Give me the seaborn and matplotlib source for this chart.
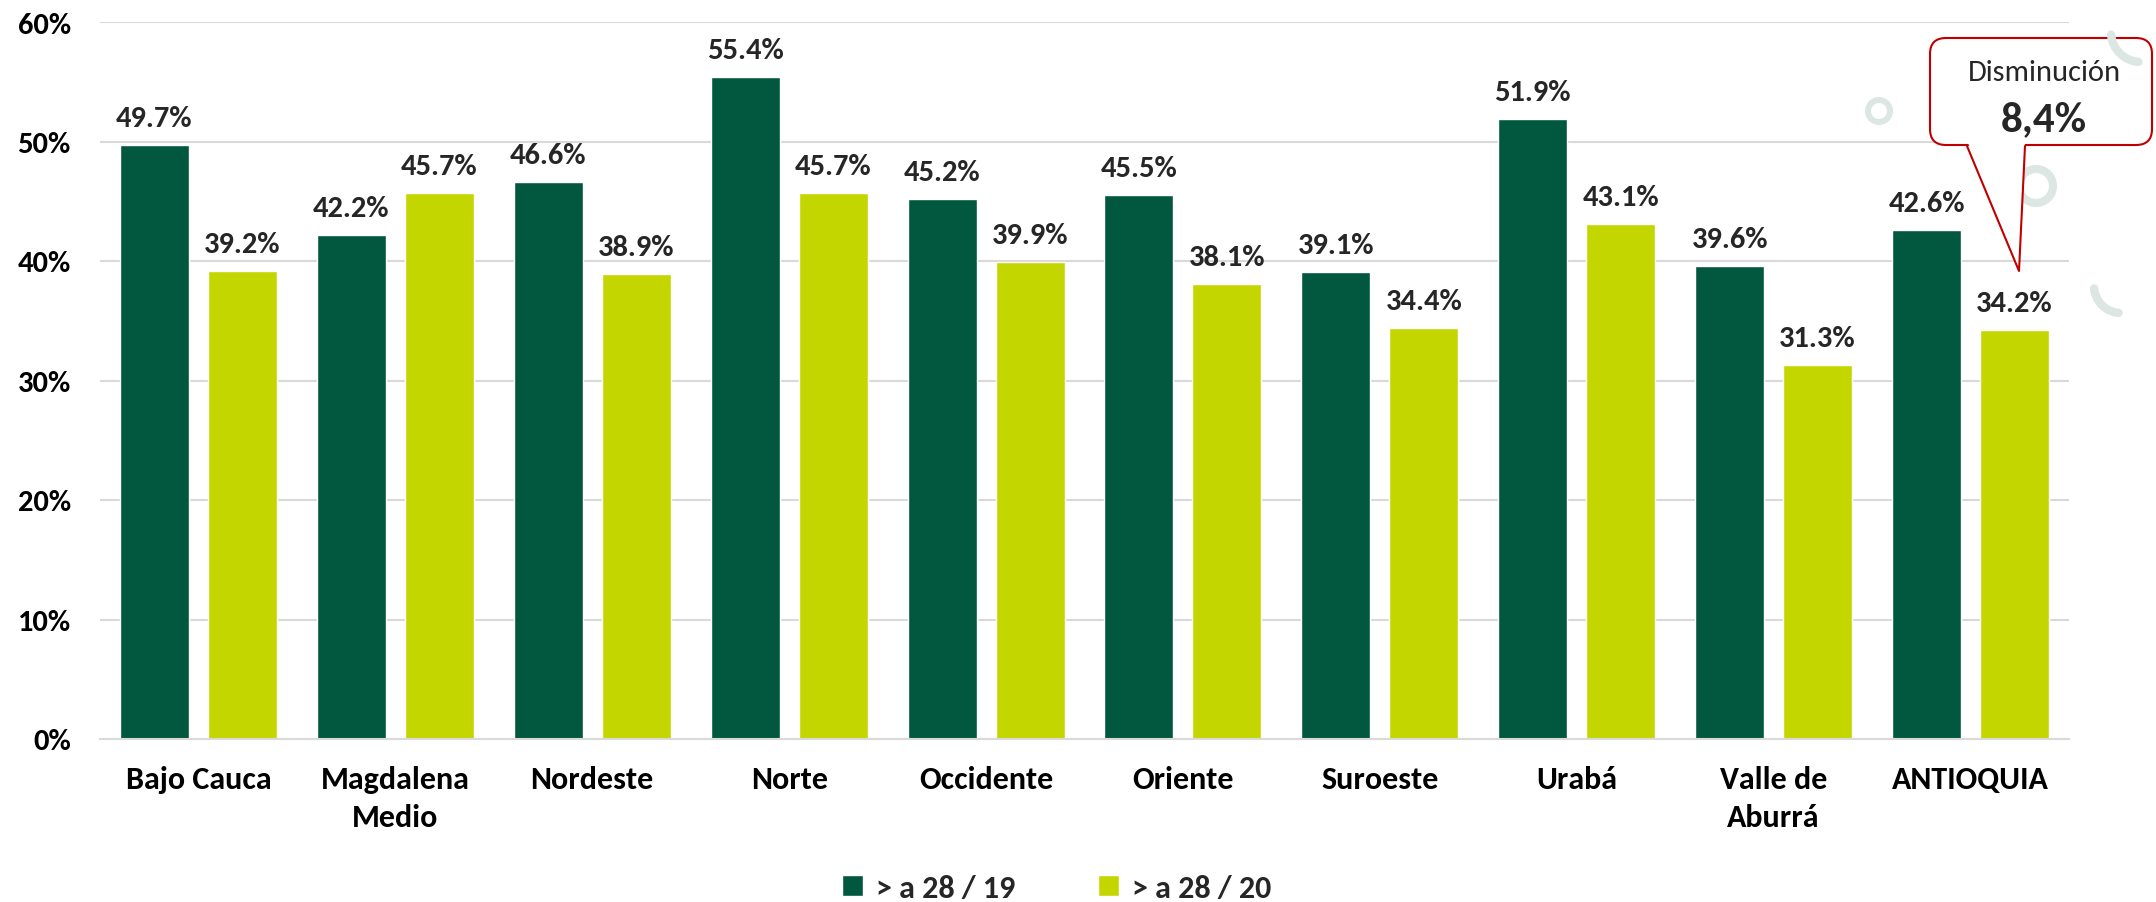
import pandas as pd
import seaborn as sns
import matplotlib.pyplot as plt
from matplotlib.patches import FancyBboxPatch, Polygon, Circle, Arc

# Data
regions = ["Bajo Cauca", "Magdalena\nMedio", "Nordeste", "Norte", "Occidente",
           "Oriente", "Suroeste", "Urabá", "Valle de\nAburrá", "ANTIOQUIA"]
serie_19 = [49.7, 42.2, 46.6, 55.4, 45.2, 45.5, 39.1, 51.9, 39.6, 42.6]
serie_20 = [39.2, 45.7, 38.9, 45.7, 39.9, 38.1, 34.4, 43.1, 31.3, 34.2]
series_names = ["> a 28 / 19", "> a 28 / 20"]
callout_title = "Disminución"
callout_value = "8,4%"

DARK = "#02573F"
LIGHT = "#C4D600"
GRID = "#D9D9D9"
DECO = "#DCE6E3"

df = pd.DataFrame({
    "region": regions * 2,
    "valor": serie_19 + serie_20,
    "serie": [series_names[0]] * len(regions) + [series_names[1]] * len(regions),
})

sns.set_theme(style="white")
plt.rcParams["font.family"] = ["Carlito", "DejaVu Sans"]

W, H = 2156, 903
fig = plt.figure(figsize=(W / 100, H / 100), dpi=100)

# overlay for decorations (pixel coordinates)
deco = fig.add_axes([0, 0, 1, 1], zorder=0)
deco.set_xlim(0, W)
deco.set_ylim(H, 0)
deco.axis("off")
deco.add_patch(Circle((1879, 112), 11, fill=False, ec=DECO, lw=4.3))
deco.add_patch(Circle((2036, 187), 17, fill=False, ec=DECO, lw=5.8))
deco.add_patch(Arc((2121, 287), 54, 54, theta1=95, theta2=175, ec=DECO, lw=6,
                   capstyle="round"))

ax = fig.add_axes([100 / W, 1 - 740 / H, (2069 - 100) / W, 717 / H], zorder=1)
ax.patch.set_alpha(0)

sns.barplot(data=df, x="region", y="valor", hue="serie", palette=[DARK, LIGHT],
            width=0.894, gap=0.217, saturation=1, ax=ax)

ax.set_ylim(0, 60)
ax.set_yticks(range(0, 61, 10))
ax.set_yticklabels([f"{v}%" for v in range(0, 61, 10)])
ax.yaxis.grid(True, color=GRID, lw=1.5)
ax.set_axisbelow(True)
for s in ["top", "right", "left"]:
    ax.spines[s].set_visible(False)
ax.spines["bottom"].set_color(GRID)
ax.spines["bottom"].set_linewidth(1.5)
ax.tick_params(axis="y", length=0, pad=21, labelsize=22)
ax.tick_params(axis="x", length=0, pad=19, labelsize=23)
for t in ax.get_xticklabels() + ax.get_yticklabels():
    t.set_fontweight("bold")
    t.set_color("black")
for t in ax.get_xticklabels():
    t.set_linespacing(1.4)
ax.set_xlabel("")
ax.set_ylabel("")

for cont in ax.containers:
    ax.bar_label(cont, fmt="%.1f%%", padding=10, fontsize=22, fontweight="bold")

handles, labels = ax.get_legend_handles_labels()
ax.get_legend().remove()
fig.legend(handles, labels, loc="center", bbox_to_anchor=(0.49, 0.016), ncol=2,
           frameon=False, prop={"weight": "bold", "size": 23},
           handlelength=0.65, handleheight=0.65, handletextpad=0.4, columnspacing=2.6)

# callout
top = fig.add_axes([0, 0, 1, 1], zorder=3)
top.set_xlim(0, W)
top.set_ylim(H, 0)
top.axis("off")
red = "#C00000"
top.add_patch(FancyBboxPatch((1930, 39), 222, 107,
                             boxstyle="round,pad=0,rounding_size=16",
                             fc="white", ec=red, lw=1.5))
top.add_patch(Polygon([(1968, 144), (2019, 272), (2025, 144)], closed=True,
                      fc="white", ec="none"))
top.plot([1967, 2019, 2025], [147, 272, 147], color=red, lw=1.5)
top.add_patch(Arc((2141, 33), 60, 60, theta1=95, theta2=175, ec=DECO, lw=6,
                  capstyle="round"))
top.text(2044, 73, callout_title, ha="center", va="center", fontsize=22)
top.text(2044, 120, callout_value, ha="center", va="center", fontsize=31,
         fontweight="bold")

fig.savefig("out.png", dpi=100)
